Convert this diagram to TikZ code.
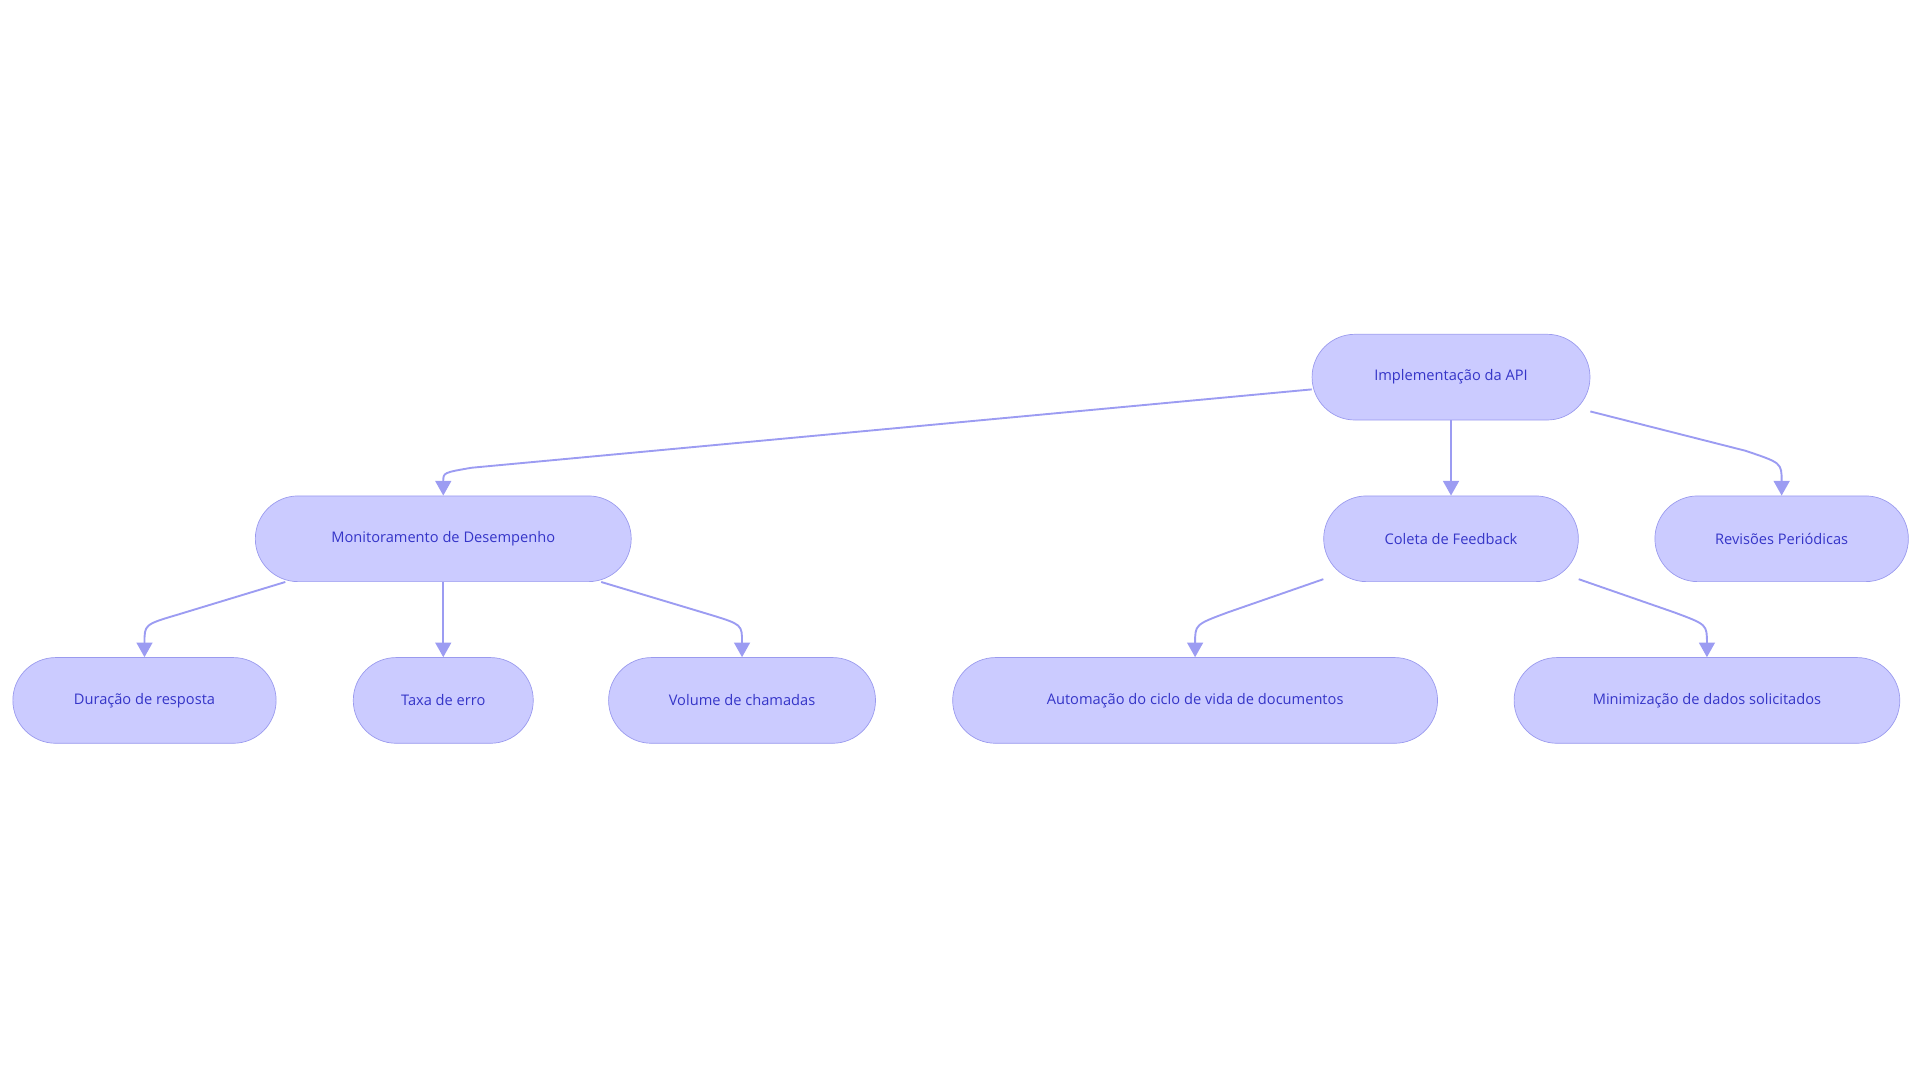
\documentclass[tikz,border=0pt]{standalone}
\usepackage{fontspec}
\setmainfont{Open Sans}
\usetikzlibrary{arrows.meta}
\definecolor{nfill}{HTML}{CBCBFF}
\definecolor{ndraw}{HTML}{9A9AEE}
\definecolor{ntext}{HTML}{3535C8}
\definecolor{edge}{HTML}{9C9CF2}
\begin{document}
\begin{tikzpicture}[x=0.05cm,y=-0.05cm,
  box/.style={draw=ndraw,fill=nfill,rounded corners=1.75cm,minimum height=3.5cm,text=ntext,font=\fontsize{17pt}{20pt}\selectfont,inner sep=0pt,line width=0.8pt},
  conn/.style={draw=edge,line width=2.2pt,-{Triangle[length=0.6cm,width=0.65cm]}}]
\useasboundingbox (0,0) rectangle (1568,885);
\node[box,minimum width=11.35cm] (root) at (1185,308) {Implementação da API};
\node[box,minimum width=15.35cm] (mon) at (362,440) {Monitoramento de Desempenho};
\node[box,minimum width=10.4cm] (col) at (1185,440) {Coleta de Feedback};
\node[box,minimum width=10.35cm] (rev) at (1455,440) {Revisões Periódicas};
\node[box,minimum width=10.75cm] (dur) at (118,572) {Duração de resposta};
\node[box,minimum width=7.35cm] (tax) at (362,572) {Taxa de erro};
\node[box,minimum width=10.9cm] (vol) at (606,572) {Volume de chamadas};
\node[box,minimum width=19.8cm] (aut) at (976,572) {Automação do ciclo de vida de documentos};
\node[box,minimum width=15.75cm] (min) at (1394,572) {Minimização de dados solicitados};
\draw[conn] ([yshift=-0.5cm]root.west) -- (385,382) .. controls (362,386) .. (mon.north);
\draw[conn] (root.south) -- (col.north);
\draw[conn] ([yshift=-1.4cm]root.east) -- (1425,368) .. controls (1455,378) .. (rev.north);
\draw[conn] ([xshift=-6.45cm]mon.south) -- (145,502) .. controls (118,510) .. (dur.north);
\draw[conn] (mon.south) -- (tax.north);
\draw[conn] ([xshift=6.45cm]mon.south) -- (580,502) .. controls (606,510) .. (vol.north);
\draw[conn] ([yshift=-1.65cm]col.west) -- (1003,500) .. controls (976,510) .. (aut.north);
\draw[conn] ([yshift=-1.65cm]col.east) -- (1367,500) .. controls (1394,510) .. (min.north);
\end{tikzpicture}
\end{document}
